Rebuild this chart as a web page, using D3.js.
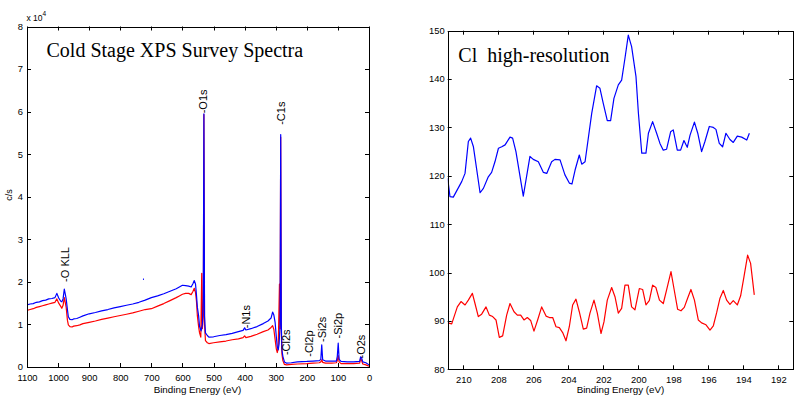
<!DOCTYPE html>
<html>
<head>
<meta charset="utf-8">
<script src="https://cdn.jsdelivr.net/npm/d3@7"></script>
<style>
  body { margin: 0; background: #fff; }
  svg { display: block; }
  text { font-family: "Liberation Sans", Arial, sans-serif; fill: #000; }
  .serif { font-family: "Liberation Serif", "Times New Roman", serif; white-space: pre; }
</style>
</head>
<body>
<svg id="chart" width="808" height="396"></svg>
<script>
// ---------- Survey spectra (left) ----------
const surveyTitle = "Cold Stage XPS Survey Spectra";
const surveyXTicks = [1100, 1000, 900, 800, 700, 600, 500, 400, 300, 200, 100, 0];
const surveyYTicks = [0, 1, 2, 3, 4, 5, 6, 7, 8];

const surveyEnergyBlue = [1100,1090,1080,1070,1060,1050,1040,1030,1020,1010,1004,998,992,988,984,980,977,974,970,967,962,955,950,940,930,920,900,880,860,840,820,800,780,760,740,720,700,680,660,640,620,610,600,590,580,572,566,562,558,555,552,548,545,540,536,533,531,529,526,520,515,500,480,460,440,420,405,400,396,380,360,340,325,315,310,306,302,298,295,292,289,286,284,282,280,277,272,265,250,230,200,180,160,155,152,149,140,120,105,102,99,96,90,70,50,30,27,24,20,10,0];
const surveyBlue = [1.46,1.48,1.49,1.52,1.53,1.56,1.57,1.60,1.61,1.63,1.73,1.62,1.55,1.53,1.60,1.83,1.72,1.60,1.35,1.18,1.12,1.11,1.13,1.14,1.17,1.20,1.25,1.28,1.32,1.35,1.39,1.42,1.45,1.48,1.52,1.57,1.63,1.67,1.72,1.78,1.84,1.88,1.92,1.91,1.90,1.88,1.96,2.03,1.95,1.70,1.40,1.20,0.95,0.85,1.00,1.60,5.95,1.20,0.80,0.74,0.70,0.71,0.74,0.76,0.79,0.83,0.86,0.92,0.87,0.90,0.95,1.02,1.08,1.15,1.29,1.22,1.05,0.70,0.48,0.40,0.55,1.00,5.46,1.00,0.40,0.25,0.12,0.09,0.10,0.12,0.13,0.14,0.15,0.18,0.52,0.17,0.14,0.14,0.14,0.25,0.56,0.18,0.13,0.12,0.12,0.13,0.24,0.22,0.12,0.10,0.05];

const surveyEnergyRed = [1100,1090,1080,1070,1060,1050,1040,1030,1020,1010,1004,998,992,988,984,980,977,974,970,967,962,955,950,940,930,920,900,880,860,840,820,800,780,760,740,720,700,680,660,640,620,610,600,590,580,572,566,562,558,555,552,548,545,541,538,536,533,531,529,526,520,515,500,480,460,440,420,405,400,396,380,360,340,325,315,310,306,302,298,295,292,288,286,284,282,280,277,272,265,250,230,200,180,160,155,152,149,140,120,105,102,99,96,90,70,50,30,27,24,20,10,0];
const surveyRed = [1.33,1.35,1.37,1.40,1.42,1.44,1.46,1.48,1.50,1.52,1.60,1.50,1.43,1.38,1.45,1.63,1.52,1.40,1.10,0.99,0.95,0.94,0.96,0.97,0.99,1.02,1.05,1.08,1.12,1.15,1.18,1.21,1.24,1.27,1.31,1.35,1.37,1.43,1.49,1.56,1.63,1.67,1.71,1.73,1.73,1.70,1.78,1.85,1.75,1.55,1.20,0.95,0.80,0.70,2.20,0.90,1.20,5.93,1.00,0.62,0.57,0.55,0.57,0.59,0.61,0.64,0.66,0.69,0.73,0.69,0.72,0.77,0.83,0.87,0.93,0.97,0.88,0.65,0.42,0.34,0.45,1.95,0.90,5.40,0.80,0.30,0.15,0.06,0.05,0.06,0.07,0.08,0.09,0.10,0.12,0.17,0.11,0.09,0.09,0.10,0.15,0.27,0.12,0.08,0.08,0.08,0.09,0.20,0.16,0.07,0.05,0.02];

const strayEnergy = [727, 724];
const strayValue = [2.06, 2.06];

const peakNames = ["-O KLL", "-O1s", "-C1s", "-N1s", "-Cl2s", "-Cl2p", "-Si2s", "-Si2p", "-O2s"];
const peakEnergy = [979, 533, 283, 397, 268, 193, 150, 101, 26];
const peakLevel = [2.0, 5.96, 5.69, 0.91, 0.28, 0.24, 0.59, 0.67, 0.20];

// ---------- Cl high-resolution (right) ----------
const hrTitle = "Cl  high-resolution";
const hrXTicks = [210, 208, 206, 204, 202, 200, 198, 196, 194, 192];
const hrYTicks = [80, 90, 100, 110, 120, 130, 140, 150];

const hrEnergyBlue = [210.90,210.77,210.58,210.10,209.91,209.72,209.59,209.43,209.05,208.86,208.58,208.39,208.20,208.00,207.81,207.62,207.34,207.19,207.00,206.58,206.20,206.01,205.72,205.43,205.24,204.96,204.77,204.48,204.20,203.95,203.80,203.62,203.38,203.24,203.05,202.67,202.39,202.20,202.01,201.78,201.59,201.40,201.15,200.96,200.77,200.58,200.39,200.14,200.00,199.81,199.57,199.43,199.19,198.96,198.77,198.58,198.39,198.16,198.01,197.78,197.59,197.40,197.21,197.05,196.80,196.61,196.39,196.20,195.95,195.72,195.57,195.38,195.19,195.00,194.77,194.58,194.35,194.10,193.81,193.66];
const hrBlue = [119.5,115.7,115.6,118.8,120.5,127.1,127.8,126.0,116.5,117.4,119.8,120.7,122.9,125.7,126.0,126.4,128.0,127.8,125.0,115.8,124.0,123.4,122.9,120.7,120.5,122.9,123.4,123.3,120.2,118.5,118.3,121.2,124.3,122.4,122.9,132.9,138.6,138.1,135.0,131.4,131.4,136.0,138.8,139.8,144.3,149.1,146.7,140.5,132.9,124.7,124.7,128.8,131.2,128.8,126.7,125.3,125.5,129.1,129.5,125.3,125.3,127.3,125.9,128.4,131.1,128.8,125.0,127.1,130.2,130.0,129.6,126.7,126.0,128.8,127.5,126.9,128.2,128.0,127.4,128.8];

const hrEnergyRed = [210.90,210.67,210.35,210.14,209.91,209.72,209.49,209.34,209.15,208.96,208.71,208.52,208.33,208.14,207.95,207.76,207.53,207.34,207.11,206.92,206.73,206.54,206.35,206.16,205.97,205.76,205.53,205.28,205.09,204.90,204.71,204.52,204.33,204.14,203.95,203.76,203.57,203.38,203.15,202.96,202.77,202.54,202.35,202.14,201.97,201.78,201.53,201.34,201.15,200.96,200.77,200.58,200.39,200.20,199.95,199.76,199.57,199.38,199.19,199.00,198.80,198.58,198.39,198.14,197.97,197.76,197.57,197.38,197.19,197.00,196.80,196.58,196.39,196.14,195.91,195.72,195.53,195.34,195.15,194.96,194.77,194.58,194.35,194.16,193.97,193.76,193.59,193.38];
const hrRed = [89.6,89.4,92.9,94.0,93.3,94.3,95.7,93.6,90.9,91.4,92.9,91.2,90.9,90.2,86.6,86.9,91.2,93.6,91.9,91.2,91.2,90.2,90.7,90.1,87.9,90.2,92.9,91.0,90.7,90.7,88.8,88.6,87.6,85.9,88.8,93.3,94.5,91.9,88.3,88.5,91.6,94.3,91.6,87.4,89.8,94.3,96.9,95.0,91.6,92.6,97.4,97.4,92.9,92.3,96.7,96.5,93.3,94.2,97.4,96.9,94.3,93.6,96.4,100.2,96.7,92.4,92.1,92.8,94.7,96.5,94.3,90.2,89.6,89.2,88.1,89.0,91.7,94.7,96.3,94.3,93.4,94.2,93.3,95.2,99.1,103.6,101.9,95.4];

const xLabel = "Binding Energy (eV)";
const yLabel = "c/s";

// ---------- drawing ----------
const svg = d3.select("#chart");
const TICK = 4;
const TICK_FONT = 9.4;

function panel(opt) {
  const x = d3.scaleLinear().domain(opt.xDomain).range([opt.left, opt.right]);
  const y = d3.scaleLinear().domain(opt.yDomain).range([opt.bottom, opt.top]);
  const g = svg.append("g");
  const clipId = "clip" + opt.id;
  svg.append("clipPath").attr("id", clipId).append("rect")
    .attr("x", opt.left).attr("y", opt.top)
    .attr("width", opt.right - opt.left).attr("height", opt.bottom - opt.top);

  const bottomAxis = d3.axisBottom(x).tickValues(opt.xTicks).tickFormat(d3.format("d")).tickSize(0).tickPadding(7.5);
  const gb = g.append("g").attr("transform", `translate(0,${opt.bottom})`).call(bottomAxis);
  gb.select(".domain").remove();
  gb.selectAll("text").attr("font-size", TICK_FONT).attr("font-family", "Liberation Sans, Arial, sans-serif").attr("dy", "0.71em");

  const leftAxis = d3.axisLeft(y).tickValues(opt.yTicks).tickFormat(d3.format("d")).tickSize(0).tickPadding(opt.yPad);
  const gl = g.append("g").attr("transform", `translate(${opt.left},0)`).call(leftAxis);
  gl.select(".domain").remove();
  gl.selectAll("text").attr("font-size", TICK_FONT).attr("font-family", "Liberation Sans, Arial, sans-serif").attr("dy", "0.3em");

  // inside ticks on all sides
  const tk = g.append("g").attr("stroke", "#000").attr("stroke-width", 1);
  opt.xTicks.forEach(v => {
    const px = Math.round(x(v)) + 0.5;
    tk.append("line").attr("x1", px).attr("x2", px).attr("y1", opt.bottom).attr("y2", opt.bottom - TICK);
    tk.append("line").attr("x1", px).attr("x2", px).attr("y1", opt.top).attr("y2", opt.top + TICK);
  });
  opt.yTicks.forEach(v => {
    const py = Math.round(y(v)) + 0.5;
    tk.append("line").attr("y1", py).attr("y2", py).attr("x1", opt.left).attr("x2", opt.left + TICK);
    tk.append("line").attr("y1", py).attr("y2", py).attr("x1", opt.right).attr("x2", opt.right - TICK);
  });

  const plot = g.append("g").attr("clip-path", `url(#${clipId})`);
  opt.series.forEach(s => {
    const pts = s.xs.map((v, i) => [v, s.ys[i]]);
    plot.append("path").datum(pts)
      .attr("fill", "none").attr("stroke", s.color).attr("stroke-width", s.width || 1.2)
      .attr("stroke-linejoin", "round")
      .attr("d", d3.line().x(d => x(d[0])).y(d => y(d[1])));
  });

  g.append("rect").attr("x", Math.round(opt.left) + 0.5).attr("y", Math.round(opt.top) + 0.5)
    .attr("width", Math.round(opt.right) - Math.round(opt.left)).attr("height", Math.round(opt.bottom) - Math.round(opt.top))
    .attr("fill", "none").attr("stroke", "#000").attr("stroke-width", 1);

  g.append("text").attr("class", "serif")
    .attr("x", opt.titleX).attr("y", opt.titleY).attr("font-size", 20).text(opt.title);

  g.append("text").attr("x", (opt.left + opt.right) / 2 + opt.xlabDx).attr("y", 393)
    .attr("text-anchor", "middle").attr("font-size", 9.8).text(xLabel);

  return { x, y, g };
}

const L = panel({
  id: "L", left: 27, right: 369, top: 26.5, bottom: 367,
  xDomain: [1100, 0], yDomain: [0, 8],
  xTicks: surveyXTicks, yTicks: surveyYTicks, yPad: 4,
  title: surveyTitle, titleX: 46.5, titleY: 57,
  xlabDx: -0.5,
  series: [
    { xs: surveyEnergyRed, ys: surveyRed, color: "#ff0000" },
    { xs: surveyEnergyBlue, ys: surveyBlue, color: "#0000ff" },
    { xs: strayEnergy, ys: strayValue, color: "#0000ff", width: 1.4 }
  ]
});

// exponent marker
const ex = L.g.append("text").attr("x", 26.5).attr("y", 21).attr("font-size", 8.5);
ex.append("tspan").text("x 10");
ex.append("tspan").attr("dy", -5.5).attr("font-size", 6.5).text("4");

// y label
L.g.append("text").attr("transform", "translate(12,195) rotate(-90)")
  .attr("text-anchor", "middle").attr("font-size", 9).text(yLabel);

// peak labels
peakNames.forEach((name, i) => {
  const px = L.x(peakEnergy[i]), py = L.y(peakLevel[i]);
  L.g.append("text").attr("transform", `translate(${px},${py}) rotate(-90)`)
    .attr("text-anchor", "start").attr("dy", "0.36em").attr("font-size", 11).text(name);
});

panel({
  id: "R", left: 447.7, right: 793.3, top: 30.7, bottom: 369.3,
  xDomain: [210.9, 191.15], yDomain: [80, 150],
  xTicks: hrXTicks, yTicks: hrYTicks, yPad: 3,
  title: hrTitle, titleX: 458.3, titleY: 61.7,
  xlabDx: 0,
  series: [
    { xs: hrEnergyBlue, ys: hrBlue, color: "#0000ff" },
    { xs: hrEnergyRed, ys: hrRed, color: "#ff0000" }
  ]
});
</script>
</body>
</html>
